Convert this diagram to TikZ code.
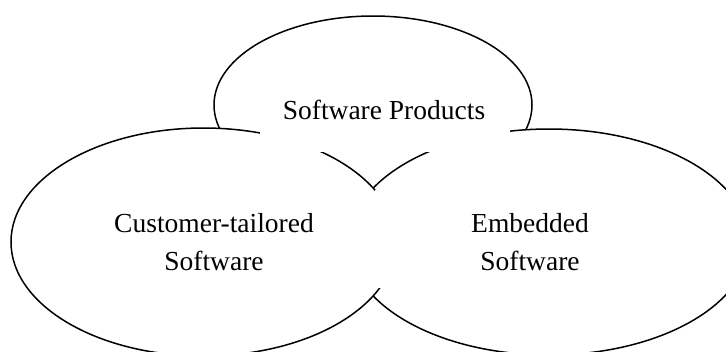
\documentclass[tikz,border=0pt]{standalone}
\usepackage{fontspec}
\setmainfont{Liberation Serif}
\usetikzlibrary{shapes.geometric}
\begin{document}
\begin{tikzpicture}[x=1pt,y=-1pt,
  blob/.style={ellipse, draw, fill=white, line width=1.5pt, inner sep=0pt, outer sep=0pt},
  mask/.style={fill=white},
  lbl/.style={font=\fontsize{27.5}{37}\selectfont, anchor=base, inner sep=0pt}]
\useasboundingbox (0,0) rectangle (726,351);
\clip (0,0) rectangle (726,351);
% ellipses, back to front
\node[blob, minimum width=318pt, minimum height=178pt] (topE) at (373,105) {};
\node[blob, minimum width=400pt, minimum height=226pt] (rightE) at (549,242) {};
\node[blob, minimum width=385pt, minimum height=228pt] (leftE) at (203.5,242) {};
% white text boxes covering the inner outlines
\fill[mask] (260,90) rectangle (510,152);
\fill[mask] (375,190) rectangle (690,288);
% labels
\node[lbl] (sp) at (384,119) {Software Products};
\node[lbl] (ct1) at (214,232) {Customer-tailored};
\node[lbl] (ct2) at (214,270) {Software};
\node[lbl] (em1) at (530,232) {Embedded};
\node[lbl] (em2) at (530,270) {Software};
\end{tikzpicture}
\end{document}
